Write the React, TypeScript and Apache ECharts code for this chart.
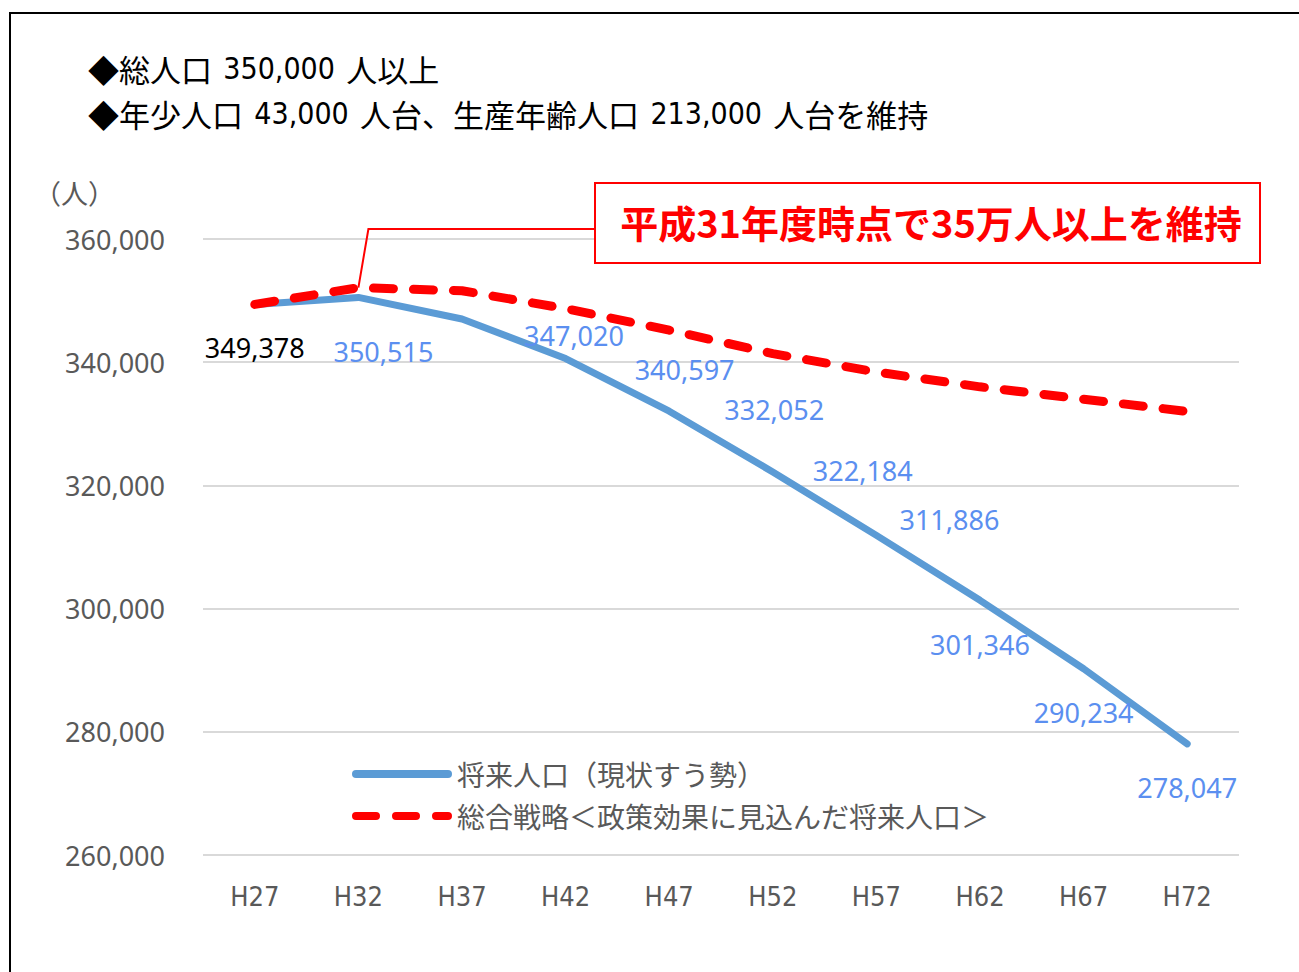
import React, { useEffect, useRef } from "react";
import * as echarts from "echarts";

const categories = ["H27", "H32", "H37", "H42", "H47", "H52", "H57", "H62", "H67", "H72"];
const trendName = "将来人口（現状すう勢）";
const strategyName = "総合戦略＜政策効果に見込んだ将来人口＞";
const trendValues = [349378, 350515, 347020, 340597, 332052, 322184, 311886, 301346, 290234, 278047];
const strategyValues = [349378, 352100, 351600, 348700, 345200, 341400, 338400, 336000, 334000, 332000];
const headLine1 = ["◆総人口", "350,000", "人以上"];
const headLine2 = ["◆年少人口", "43,000", "人台、生産年齢人口", "213,000", "人台を維持"];
const unitLabel = "（人）";
const calloutText = "平成31年度時点で35万人以上を維持";
const calloutIndex = 1;

// label placement (offset of label centre from the point), styling only
const labelOffsets = [
  [0, 43], [25, 54], [112, 17], [119, 11], [105, -2],
  [90, -1], [73, -16], [0, 44], [0, 44], [0, 44],
];

const fmt = (v: number) => v.toLocaleString("en-US");
const NUM_FONT = "'Noto Sans', 'Open Sans', sans-serif";
const JP_FONT = "'Noto Sans CJK JP', sans-serif";

const richLine = (parts: string[]) =>
  parts.map((s, i) => (i % 2 === 0 ? `{a|${s}}` : `{n|${s}}`)).join(" ");

export default function App() {
  const ref = useRef<HTMLDivElement>(null);
  useEffect(() => {
    if (!ref.current) return;
    const chart = echarts.init(ref.current, undefined, { renderer: "svg" });
    const option: any = {
      animation: false,
      backgroundColor: "#ffffff",
      grid: { left: 203, right: 60, top: 239, bottom: 117 },
      legend: {
        orient: "vertical",
        left: 352,
        top: 760,
        padding: 0,
        itemWidth: 92,
        itemHeight: 20,
        itemGap: 14,
        data: [trendName, strategyName],
        itemStyle: { opacity: 0, borderWidth: 0 },
        lineStyle: { width: 8, cap: "round" },
        textStyle: { fontSize: 28, color: "#595959", fontFamily: JP_FONT, padding: [0, 0, 0, 4] },
      },
      xAxis: {
        type: "category",
        data: categories,
        boundaryGap: true,
        axisLine: { show: false },
        axisTick: { show: false },
        axisLabel: {
          margin: 28,
          fontSize: 27,
          color: "#595959",
          fontFamily: "'Liberation Sans Narrow', 'DejaVu Sans Condensed', sans-serif",
        },
      },
      yAxis: {
        type: "value",
        min: 260000,
        max: 360000,
        interval: 20000,
        axisLine: { show: false },
        axisTick: { show: false },
        splitLine: { lineStyle: { color: "#d9d9d9", width: 2 } },
        axisLabel: {
          margin: 38,
          fontSize: 27,
          color: "#595959",
          fontFamily: NUM_FONT,
          formatter: (v: number) => fmt(v),
        },
      },
      series: [
        {
          name: trendName,
          type: "line",
          data: trendValues.map((v, i) => ({
            value: v,
            label: {
              offset: labelOffsets[i],
              color: i === 0 ? "#000000" : "#5b8ff0",
            },
          })),
          symbol: "circle",
          symbolSize: 1,
          showSymbol: true,
          itemStyle: { color: "#5b9bd5" },
          lineStyle: { color: "#5b9bd5", width: 7, cap: "round", join: "round" },
          label: {
            show: true,
            position: "inside",
            fontSize: 27,
            fontFamily: NUM_FONT,
            formatter: (p: any) => fmt(p.value),
          },
          z: 2,
        },
        {
          name: strategyName,
          type: "line",
          data: strategyValues,
          symbol: "none",
          itemStyle: { color: "#ff0000" },
          lineStyle: { color: "#ff0000", width: 9, type: [20, 20], cap: "round", join: "round" },
          z: 3,
        },
      ],
    };
    chart.setOption(option);

    const p = chart.convertToPixel({ xAxisIndex: 0, yAxisIndex: 0 }, [
      categories[calloutIndex],
      strategyValues[calloutIndex],
    ]) as number[];

    const headRich = {
      a: { fontSize: 31, fontFamily: JP_FONT, color: "#000000" },
      n: {
        fontSize: 30,
        fontFamily: "'Liberation Sans Narrow', 'DejaVu Sans Condensed', sans-serif",
        color: "#000000",
        padding: [0, 8, 0, 8],
      },
    };

    chart.setOption({
      graphic: [
        {
          type: "rect",
          shape: { x: 10, y: 13, width: 1400, height: 1100 },
          style: { fill: "none", stroke: "#000000", lineWidth: 2 },
          silent: true,
        },
        {
          type: "text",
          x: 88,
          y: 68,
          style: { text: richLine(headLine1), rich: headRich, fill: "#000000", verticalAlign: "middle" },
        },
        {
          type: "text",
          x: 88,
          y: 113,
          style: { text: richLine(headLine2), rich: headRich, fill: "#000000", verticalAlign: "middle" },
        },
        {
          type: "text",
          x: 34,
          y: 192,
          style: { text: unitLabel, font: `27px ${JP_FONT}`, fill: "#595959", verticalAlign: "middle" },
        },
        {
          type: "polyline",
          shape: { points: [[p[0], p[1]], [p[0] + 10, 229], [595, 229]] },
          style: { stroke: "#ff0000", lineWidth: 2, fill: "none" },
          z: 10,
        },
        {
          type: "rect",
          shape: { x: 595, y: 183, width: 665, height: 80 },
          style: { fill: "#ffffff", stroke: "#ff0000", lineWidth: 2 },
          z: 10,
        },
        {
          type: "text",
          x: 931,
          y: 221,
          style: {
            text: calloutText,
            font: `bold 38px ${JP_FONT}`,
            fill: "#ff0000",
            align: "center",
            verticalAlign: "middle",
          },
          z: 11,
        },
      ],
    });

    return () => chart.dispose();
  }, []);

  return (
    <div
      ref={ref}
      style={{ position: "absolute", left: 0, top: 0, width: 1299, height: 972 }}
    />
  );
}
